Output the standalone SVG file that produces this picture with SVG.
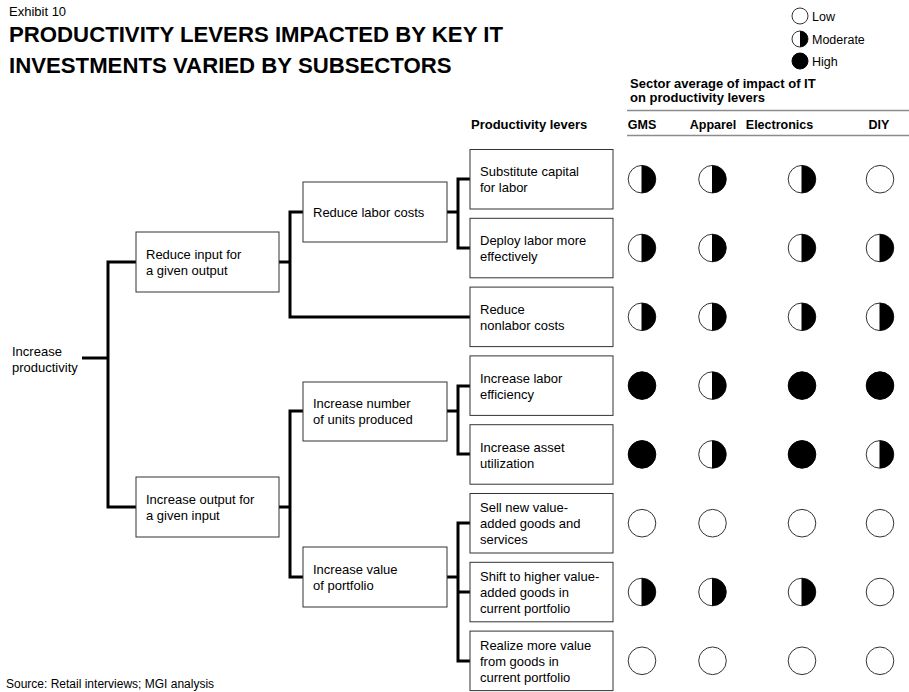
<svg xmlns="http://www.w3.org/2000/svg" width="909" height="692" viewBox="0 0 909 692">
  <style>
    text { font-family: "Liberation Sans", Arial, sans-serif; fill: #000; }
    .t { font-size: 13px; }
    .b { font-weight: bold; }
    .box { fill: #fff; stroke: #333; stroke-width: 1; }
    .conn { fill: none; stroke: #000; stroke-width: 3; stroke-linejoin: miter; }
    .rule { stroke: #8c8c8c; stroke-width: 1.6; }
    .ring { fill: #fff; stroke: #333; stroke-width: 1; }
    .dot { fill: #000; stroke: #000; stroke-width: 1; }
  </style>
  <defs>
    <!-- rating symbols, drawn at the origin -->
    <g id="low"><circle r="13.8" class="ring"/></g>
    <g id="mod"><circle r="13.8" class="ring"/><path d="M0,-13.8 A13.8,13.8 0 0 1 0,13.8 Z" fill="#000"/><line x1="0" y1="-13.8" x2="0" y2="13.8" stroke="#000" stroke-width="1"/></g>
    <g id="high"><circle r="13.8" class="dot"/></g>
    <g id="lowS"><circle r="8" class="ring"/></g>
    <g id="modS"><circle r="8" class="ring"/><path d="M0,-8 A8,8 0 0 1 0,8 Z" fill="#000"/></g>
    <g id="highS"><circle r="8" class="dot"/></g>
  </defs>

  <!-- heading -->
  <g id="heading">
    <text x="9" y="16" class="t">Exhibit 10</text>
    <text x="9" y="42" class="b" font-size="22.2">PRODUCTIVITY LEVERS IMPACTED BY KEY IT</text>
    <text x="9" y="73" class="b" font-size="22.2">INVESTMENTS VARIED BY SUBSECTORS</text>
  </g>

  <!-- legend -->
  <g id="legend">
    <use href="#lowS" x="800" y="16"/>
    <text x="812" y="21" font-size="12.5">Low</text>
    <use href="#modS" x="800" y="39"/>
    <text x="812" y="44" font-size="12.5">Moderate</text>
    <use href="#highS" x="800" y="61"/>
    <text x="812" y="66" font-size="12.5">High</text>
  </g>

  <!-- column headings -->
  <g id="columns">
    <text x="630" y="88" class="b" font-size="13">Sector average of impact of IT</text>
    <text x="630" y="102" class="b" font-size="13">on productivity levers</text>
    <line x1="627" y1="110.5" x2="909" y2="110.5" class="rule"/>
    <text x="471" y="129" class="b" font-size="13">Productivity levers</text>
    <text x="642" y="129" class="b" font-size="12.5" text-anchor="middle">GMS</text>
    <text x="713" y="129" class="b" font-size="12.5" text-anchor="middle">Apparel</text>
    <text x="779.5" y="129" class="b" font-size="12.5" text-anchor="middle">Electronics</text>
    <text x="879" y="129" class="b" font-size="12.5" text-anchor="middle">DIY</text>
    <line x1="627" y1="135.5" x2="909" y2="135.5" class="rule"/>
  </g>

  <!-- connectors -->
  <g id="connectors" class="conn">
    <path d="M82,358 H108"/>
    <path d="M136,262 H108 V507 H136"/>
    <path d="M279,262 H290"/>
    <path d="M303,212 H290 V317 H470"/>
    <path d="M447,212 H458"/>
    <path d="M470,179 H458 V248 H470"/>
    <path d="M279,507 H290"/>
    <path d="M303,411 H290 V577 H303"/>
    <path d="M447,411 H458"/>
    <path d="M470,386 H458 V454 H470"/>
    <path d="M447,577 H458"/>
    <path d="M470,523 H458 V661 H470"/>
    <path d="M458,592 H470"/>
  </g>

  <!-- root -->
  <g id="n-root">
    <text x="12" y="356" class="t">Increase</text>
    <text x="12" y="372" class="t">productivity</text>
  </g>

  <!-- first level -->
  <g id="n-reduce-input">
    <rect x="136" y="232" width="143" height="60" class="box"/>
    <text x="146" y="259" class="t">Reduce input for</text>
    <text x="146" y="275" class="t">a given output</text>
  </g>
  <g id="n-increase-output">
    <rect x="136" y="477" width="143" height="60" class="box"/>
    <text x="146" y="504" class="t">Increase output for</text>
    <text x="146" y="520" class="t">a given input</text>
  </g>

  <!-- second level -->
  <g id="n-reduce-labor">
    <rect x="303" y="182" width="144" height="60" class="box"/>
    <text x="313" y="216.5" class="t">Reduce labor costs</text>
  </g>
  <g id="n-increase-units">
    <rect x="303" y="382" width="144" height="59" class="box"/>
    <text x="313" y="408" class="t">Increase number</text>
    <text x="313" y="424" class="t">of units produced</text>
  </g>
  <g id="n-increase-value">
    <rect x="303" y="547" width="144" height="60" class="box"/>
    <text x="313" y="574" class="t">Increase value</text>
    <text x="313" y="590" class="t">of portfolio</text>
  </g>

  <!-- productivity levers -->
  <g id="n-lever-1">
    <rect x="470" y="149.5" width="143" height="59.5" class="box"/>
    <text x="480" y="176" class="t">Substitute capital</text>
    <text x="480" y="192" class="t">for labor</text>
  </g>
  <g id="n-lever-2">
    <rect x="470" y="218.3" width="143" height="59.5" class="box"/>
    <text x="480" y="245" class="t">Deploy labor more</text>
    <text x="480" y="261" class="t">effectively</text>
  </g>
  <g id="n-lever-3">
    <rect x="470" y="287.1" width="143" height="59.5" class="box"/>
    <text x="480" y="314" class="t">Reduce</text>
    <text x="480" y="330" class="t">nonlabor costs</text>
  </g>
  <g id="n-lever-4">
    <rect x="470" y="355.9" width="143" height="59.5" class="box"/>
    <text x="480" y="382.5" class="t">Increase labor</text>
    <text x="480" y="398.5" class="t">efficiency</text>
  </g>
  <g id="n-lever-5">
    <rect x="470" y="424.7" width="143" height="59.5" class="box"/>
    <text x="480" y="451.5" class="t">Increase asset</text>
    <text x="480" y="467.5" class="t">utilization</text>
  </g>
  <g id="n-lever-6">
    <rect x="470" y="493.5" width="143" height="59.5" class="box"/>
    <text x="480" y="512" class="t">Sell new value-</text>
    <text x="480" y="528" class="t">added goods and</text>
    <text x="480" y="544" class="t">services</text>
  </g>
  <g id="n-lever-7">
    <rect x="470" y="562.3" width="143" height="59.5" class="box"/>
    <text x="480" y="580.5" class="t">Shift to higher value-</text>
    <text x="480" y="596.5" class="t">added goods in</text>
    <text x="480" y="612.5" class="t">current portfolio</text>
  </g>
  <g id="n-lever-8">
    <rect x="470" y="631.1" width="143" height="59.5" class="box"/>
    <text x="480" y="649.5" class="t">Realize more value</text>
    <text x="480" y="665.5" class="t">from goods in</text>
    <text x="480" y="681.5" class="t">current portfolio</text>
  </g>

  <!-- impact ratings: GMS, Apparel, Electronics, DIY -->
  <g id="ratings">
    <use href="#mod" x="642" y="179.2"/><use href="#mod" x="712.5" y="179.2"/><use href="#mod" x="802" y="179.2"/><use href="#low" x="880" y="179.2"/>
    <use href="#mod" x="642" y="248"/><use href="#mod" x="712.5" y="248"/><use href="#mod" x="802" y="248"/><use href="#mod" x="880" y="248"/>
    <use href="#mod" x="642" y="316.8"/><use href="#mod" x="712.5" y="316.8"/><use href="#mod" x="802" y="316.8"/><use href="#mod" x="880" y="316.8"/>
    <use href="#high" x="642" y="385.6"/><use href="#mod" x="712.5" y="385.6"/><use href="#high" x="802" y="385.6"/><use href="#high" x="880" y="385.6"/>
    <use href="#high" x="642" y="454.4"/><use href="#mod" x="712.5" y="454.4"/><use href="#high" x="802" y="454.4"/><use href="#mod" x="880" y="454.4"/>
    <use href="#low" x="642" y="523.2"/><use href="#low" x="712.5" y="523.2"/><use href="#low" x="802" y="523.2"/><use href="#low" x="880" y="523.2"/>
    <use href="#mod" x="642" y="592"/><use href="#mod" x="712.5" y="592"/><use href="#mod" x="802" y="592"/><use href="#low" x="880" y="592"/>
    <use href="#low" x="642" y="660.8"/><use href="#low" x="712.5" y="660.8"/><use href="#low" x="802" y="660.8"/><use href="#low" x="880" y="660.8"/>
  </g>

  <!-- source note -->
  <text x="6" y="688" font-size="12">Source: Retail interviews; MGI analysis</text>
</svg>
